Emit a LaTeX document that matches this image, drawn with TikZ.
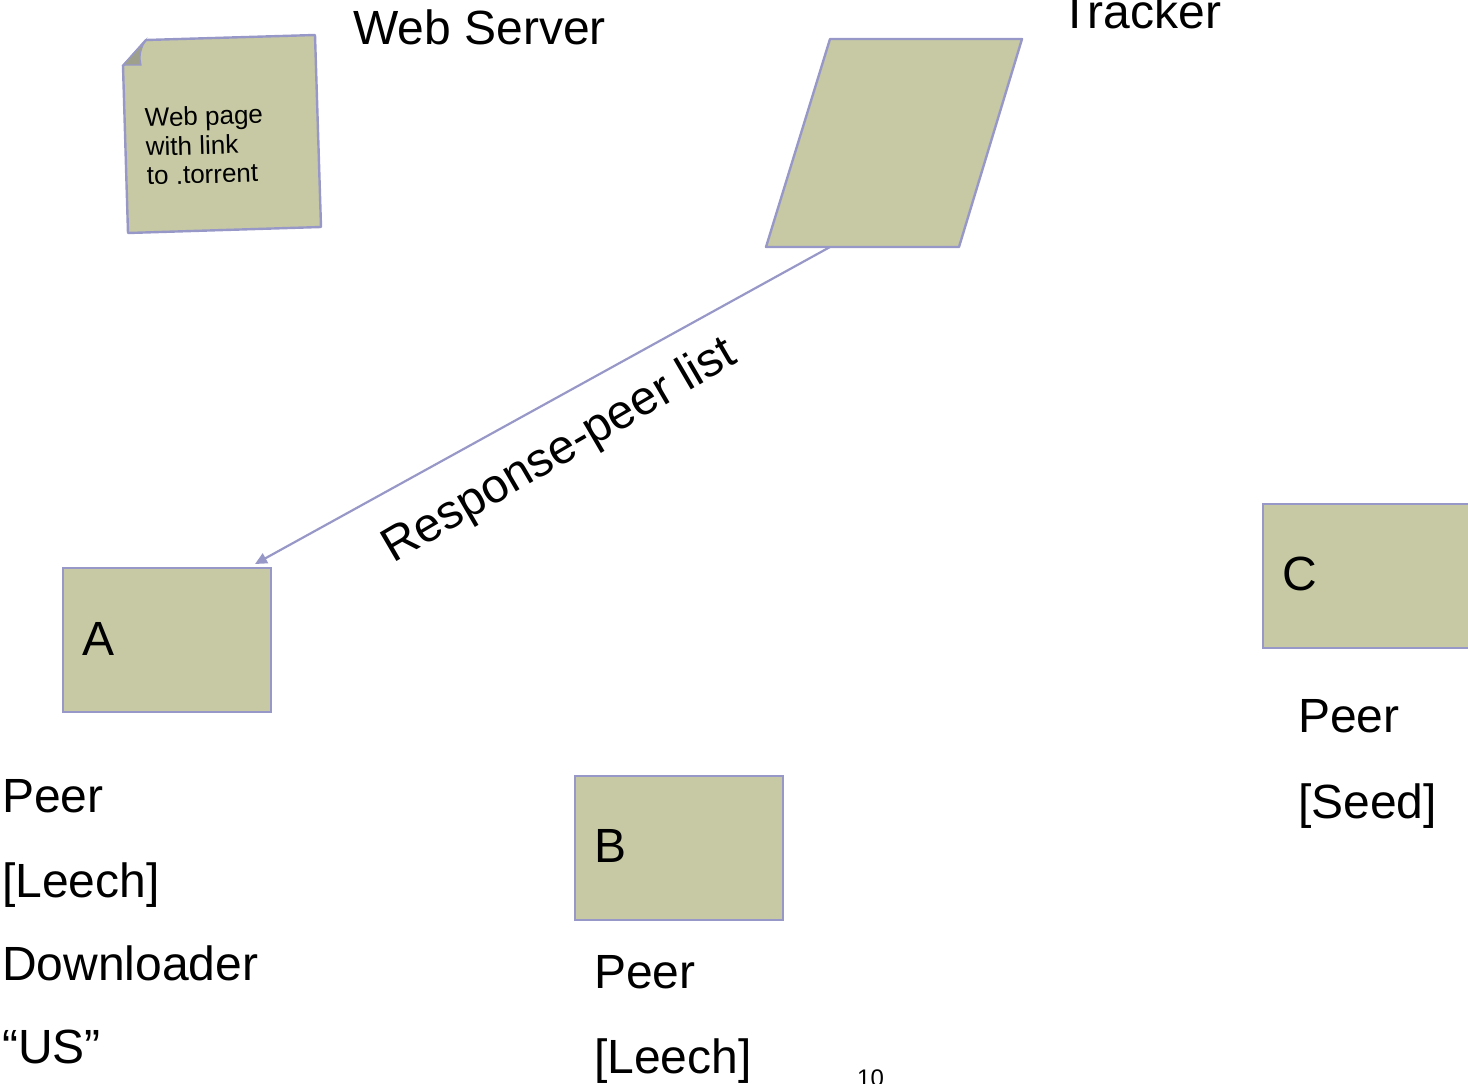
\documentclass[tikz,border=0pt]{standalone}
\usepackage{fontspec}
\setmainfont{Liberation Sans}
\usetikzlibrary{arrows.meta}
\definecolor{boxfill}{RGB}{198,201,163}
\definecolor{boxline}{RGB}{152,152,200}
\definecolor{foldfill}{RGB}{158,160,140}
\tikzset{
  bigtext/.style={font=\fontsize{48}{58}\selectfont, inner sep=0pt, anchor=base west},
  peerbox/.style={draw=boxline, fill=boxfill, line width=2.4pt, minimum width=208pt, minimum height=144pt, inner sep=0pt},
  shapeline/.style={draw=boxline, fill=boxfill, line width=2.4pt, line join=round},
  conn/.style={draw=boxline, line width=2.2pt, -{Triangle[length=12pt,width=11pt]}},
  notetext/.style={font=\fontsize{26}{30}\selectfont, inner sep=0pt, anchor=base west, rotate=1.7},
}
\begin{document}
\begin{tikzpicture}[x=1pt,y=-1pt]
\useasboundingbox (0,0) rectangle (1468,1084);
% web page note
\draw[shapeline] (146,40) -- (315,35) -- (321,227) -- (128,233) -- (123,66) -- cycle;
\fill[foldfill] (123,65) -- (145,41) .. controls (140,50) and (139,58) .. (141,65) -- cycle;
\draw[boxline, line width=1.2pt] (123,65) -- (145,41) .. controls (140,50) and (139,58) .. (141,65) -- cycle;
\node[notetext] (n1) at (145,127) {Web page};
\node[notetext] (n2) at (146,156) {with link};
\node[notetext] (n3) at (147,185) {to .torrent};
\node[bigtext] (ws) at (353,45) {Web Server};
% tracker
\draw[shapeline] (830,39) -- (1022,39) -- (959,247) -- (766,247) -- cycle;
\coordinate (trk) at (830,247);
\node[bigtext] (tr) at (1060,28) {Tracker};
% peers
\node[peerbox, anchor=north west] (A) at (62,567) {};
\node[bigtext] (Al) at (82,655) {A};
\node[peerbox, anchor=north west] (B) at (574,775) {};
\node[bigtext] (Bl) at (594,862) {B};
\node[peerbox, anchor=north west] (C) at (1262,503) {};
\node[bigtext] (Cl) at (1282,590) {C};
\coordinate (Aend) at (255,564);
\draw[conn] (trk) -- (Aend);
\node[font=\fontsize{48}{58}\selectfont, inner sep=0pt, rotate=30.3] (lbl) at (560,452) {Response-peer list};
% peer labels
\node[bigtext] (a1) at (2,812) {Peer};
\node[bigtext] (a2) at (2,897) {[Leech]};
\node[bigtext] (a3) at (2,980) {Downloader};
\node[bigtext] (a4) at (2,1063) {“US”};
\node[bigtext] (b1) at (594,988) {Peer};
\node[bigtext] (b2) at (594,1073) {[Leech]};
\node[bigtext] (c1) at (1298,732) {Peer};
\node[bigtext] (c2) at (1298,818) {[Seed]};
\node[font=\fontsize{24}{28}\selectfont, inner sep=0pt, anchor=base west] (pg) at (857,1086) {10};
\end{tikzpicture}
\end{document}
